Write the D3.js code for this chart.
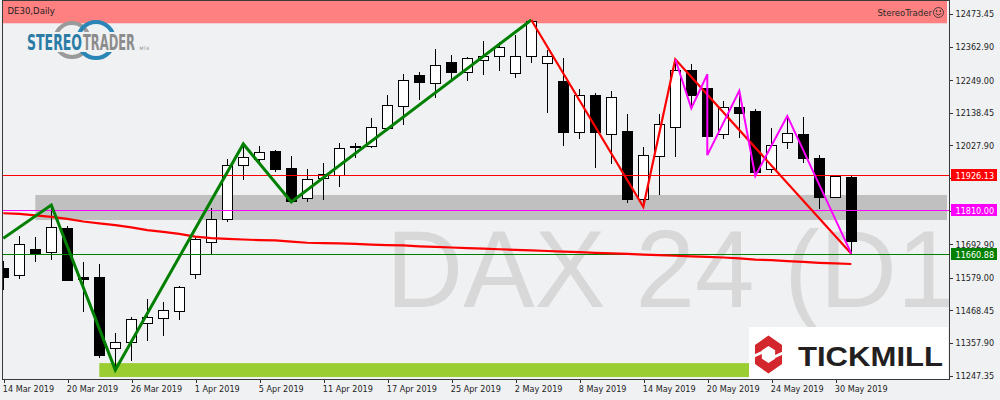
<!DOCTYPE html>
<html><head><meta charset="utf-8">
<script src="https://cdn.jsdelivr.net/npm/d3@7"></script>
<style>
body{margin:0;background:#f0f1f3}
svg{display:block}
.ax text{font-family:"DejaVu Sans Condensed","DejaVu Sans",sans-serif;font-stretch:condensed;font-size:9px;fill:#1e1e1e}
.ax line,.ax path{stroke:#333;shape-rendering:crispEdges}
</style>
</head><body>
<svg id="c" width="1000" height="400"></svg>
<script>
// ---------- DATA ----------
const dates = ["2019-03-14","2019-03-15","2019-03-18","2019-03-19","2019-03-20","2019-03-21","2019-03-22","2019-03-25","2019-03-26","2019-03-27","2019-03-28","2019-03-29","2019-04-01","2019-04-02","2019-04-03","2019-04-04","2019-04-05","2019-04-08","2019-04-09","2019-04-10","2019-04-11","2019-04-12","2019-04-15","2019-04-16","2019-04-17","2019-04-18","2019-04-23","2019-04-24","2019-04-25","2019-04-26","2019-04-29","2019-04-30","2019-05-02","2019-05-03","2019-05-06","2019-05-07","2019-05-08","2019-05-09","2019-05-10","2019-05-13","2019-05-14","2019-05-15","2019-05-16","2019-05-17","2019-05-20","2019-05-21","2019-05-22","2019-05-23","2019-05-24","2019-05-27","2019-05-28","2019-05-29","2019-05-30","2019-05-31"];
const open  = [11611,11590,11676,11666,11747,11581,11581,11342,11361,11427,11442,11468,11593,11700,11780,11961,11981,12009,11951,11849,11916,11928,12021,12025,12086,12163,12266,12239,12310,12276,12317,12330,12272,12330,12309,12246,12075,12199,12066,12077,11845,11993,12091,12284,12222,12066,12158,12145,11947,12038,12067,11984,11852,11920];
const high  = [11636,11721,11717,11826,11755,11633,11625,11391,11445,11507,11497,11551,11721,11815,11981,12033,12026,12012,11992,11948,11968,12035,12037,12121,12199,12270,12277,12354,12335,12327,12382,12380,12402,12453,12351,12325,12219,12207,12212,12135,12023,12135,12320,12304,12269,12180,12213,12151,12087,12128,12123,11995,11924,11924];
const low   = [11538,11574,11634,11640,11569,11464,11308,11267,11297,11365,11382,11436,11575,11657,11769,11911,11972,11939,11836,11837,11844,11888,11984,12018,12077,12097,12182,12190,12247,12247,12268,12281,12257,12308,12137,12026,12050,11950,11965,11833,11820,11860,11990,12154,11995,12051,12054,11924,11935,12017,11967,11812,11851,11661];
const close = [11583,11693,11664,11750,11572,11576,11319,11361,11439,11446,11469,11547,11710,11778,11962,11988,12005,11948,11838,11915,11930,12018,12025,12089,12164,12249,12244,12300,12278,12323,12330,12361,12331,12449,12330,12075,12199,12075,12191,11847,11995,12100,12284,12199,12061,12157,12139,11939,12028,12069,11986,11854,11923,11705];
const maLine = [11798,11796,11791,11786,11779,11770,11764,11758,11750,11741,11735,11728,11719,11714,11711,11709,11707,11706,11702,11698,11697,11696,11694,11692,11690,11689,11686,11684,11682,11680,11678,11676,11674,11672,11670,11668,11666,11664,11662,11660,11658,11656,11654,11652,11650,11648,11645,11641,11639,11636,11633,11630,11628,11626];
const greenZigzag = [["2019-03-14",11713],["2019-03-19",11826],["2019-03-25",11267],["2019-04-04",12033],["2019-04-09",11836],["2019-05-03",12453]];
const redZigzag = [["2019-05-03",12453],["2019-05-14",11820],["2019-05-16",12320],["2019-05-31",11661]];
const magentaZigzag = [["2019-05-16",12320],["2019-05-17",12154],["2019-05-20",12269],["2019-05-20",11995],["2019-05-22",12213],["2019-05-23",11924],["2019-05-27",12128],["2019-05-31",11661]];
const levels = [11926.13, 11810.00, 11660.88];
const levelColors = ["#ff0000","#ff00ff","#008000"];
const pinkZone = [12540, 12442];
const grayZone = [11860, 11775]; const grayStart = "2019-03-18";
const greenZone = [11290, 11243]; const greenStart = "2019-03-22";
const yTicks = [12473.45,12362.90,12249.00,12138.45,12027.90,11917.35,11806.80,11692.90,11579.00,11468.45,11357.90,11247.35];
const xTickDates = ["2019-03-14","2019-03-20","2019-03-26","2019-04-01","2019-04-05","2019-04-11","2019-04-17","2019-04-25","2019-05-02","2019-05-08","2019-05-14","2019-05-20","2019-05-24","2019-05-30"];

// ---------- CHART ----------
const svg = d3.select("#c");
const bg = "#f0f1f3";
svg.append("rect").attr("width",1000).attr("height",400).attr("fill",bg);
const defs = svg.append("defs");
defs.append("clipPath").attr("id","plot").append("rect").attr("x",3).attr("y",1).attr("width",946).attr("height",378);

const x = d3.scalePoint().domain(dates).range([3.3, 851.3]);
const y = d3.scaleLinear().domain([11247.35, 12473.45]).range([375.7, 14]);
const candles = dates.map((d,i)=>({d, o:open[i], h:high[i], l:low[i], c:close[i]}));

const g = svg.append("g").attr("clip-path","url(#plot)");

// zones
g.append("rect").attr("x",3).attr("width",944).attr("y",y(pinkZone[0])).attr("height",y(pinkZone[1])-y(pinkZone[0])).attr("fill","#ff8080");
g.append("rect").attr("x",x(grayStart)).attr("width",947-x(grayStart)).attr("y",y(grayZone[0])).attr("height",y(grayZone[1])-y(grayZone[0])).attr("fill","#c0c0c0");
g.append("rect").attr("x",x(greenStart)).attr("width",947-x(greenStart)).attr("y",y(greenZone[0])).attr("height",y(greenZone[1])-y(greenZone[0])).attr("fill","#9acd32");

// watermark
g.append("text").attr("x",386).attr("y",307).attr("font-family","Liberation Sans, Arial, sans-serif")
 .attr("font-size",110).attr("fill","#d8d8d8").attr("textLength",606).attr("lengthAdjust","spacingAndGlyphs")
 .text("DAX 24 (D1)");

// candles
const cg = g.append("g").attr("shape-rendering","crispEdges");
cg.selectAll("line.w").data(candles).join("line")
  .attr("x1",d=>Math.round(x(d.d))+0.5).attr("x2",d=>Math.round(x(d.d))+0.5)
  .attr("y1",d=>y(d.h)).attr("y2",d=>y(d.l)).attr("stroke","#000");
cg.selectAll("rect.b").data(candles).join("rect")
  .attr("x",d=>Math.round(x(d.d))-5+0.5).attr("width",10)
  .attr("y",d=>Math.round(y(Math.max(d.o,d.c)))+0.5)
  .attr("height",d=>Math.max(0,Math.round(y(Math.min(d.o,d.c)))-Math.round(y(Math.max(d.o,d.c)))))
  .attr("fill",d=>d.c>=d.o?"#fff":"#000").attr("stroke","#000");

// horizontal levels
g.selectAll("line.lv").data(levels).join("line")
  .attr("x1",3).attr("x2",949).attr("y1",d=>Math.round(y(d))+0.5).attr("y2",d=>Math.round(y(d))+0.5)
  .attr("stroke",(d,i)=>levelColors[i]).attr("stroke-width",1).attr("shape-rendering","crispEdges");

// moving average line
const lineMA = d3.line().x((d,i)=>x(dates[i])).y(d=>y(d));
g.append("path").attr("d",lineMA(maLine)).attr("fill","none").attr("stroke","#ff0000").attr("stroke-width",2.2);

// zigzags
const zz = d3.line().x(d=>x(d[0])).y(d=>y(d[1]));
g.append("path").attr("d",zz(greenZigzag)).attr("fill","none").attr("stroke","#008000").attr("stroke-width",3).attr("stroke-linejoin","miter");
g.append("path").attr("d",zz(redZigzag)).attr("fill","none").attr("stroke","#ff0000").attr("stroke-width",2.2);
g.append("path").attr("d",zz(magentaZigzag)).attr("fill","none").attr("stroke","#ff00ff").attr("stroke-width",2);

// frame
svg.append("rect").attr("x",2.5).attr("y",0.5).attr("width",947).attr("height",379)
  .attr("fill","none").attr("stroke","#3a3a3a").attr("shape-rendering","crispEdges");

// axes
const fmt = d3.timeFormat("%-d %b %Y"), parse = d3.timeParse("%Y-%m-%d");
const ya = svg.append("g").attr("class","ax").attr("transform","translate(949.5,0)")
  .call(d3.axisRight(y).tickValues(yTicks).tickFormat(d3.format(".2f")).tickSize(3).tickSizeOuter(0).tickPadding(3));
ya.select(".domain").remove();
const xa = svg.append("g").attr("class","ax").attr("transform","translate(0,379.5)")
  .call(d3.axisBottom(x).tickValues(xTickDates).tickFormat(d=>fmt(parse(d))).tickSize(3).tickSizeOuter(0).tickPadding(3));
xa.select(".domain").remove();
xa.selectAll(".tick line").attr("transform","translate(0.2,0)");
xa.selectAll(".tick text").attr("text-anchor","start").attr("x",-1);

// price level labels
levels.forEach((v,i)=>{
  const yy = Math.round(y(v))+0.5;
  svg.append("rect").attr("x",951).attr("y",yy-6.5).attr("width",46).attr("height",12).attr("fill",levelColors[i]);
  svg.append("text").attr("x",955.5).attr("y",yy+3.3).attr("fill","#fff")
    .attr("font-family","DejaVu Sans Condensed, DejaVu Sans, sans-serif").attr("font-stretch","condensed").attr("font-size",9)
    .text(d3.format(".2f")(v));
});

// header texts
svg.append("text").attr("x",7.5).attr("y",14).attr("font-family","DejaVu Sans Condensed, DejaVu Sans, sans-serif")
  .attr("font-stretch","condensed").attr("font-size",9.5).attr("fill","#1e1e1e").text("DE30,Daily");
svg.append("text").attr("x",932).attr("y",15.5).attr("text-anchor","end").attr("font-family","DejaVu Sans Condensed, DejaVu Sans, sans-serif")
  .attr("font-stretch","condensed").attr("font-size",9.5).attr("fill","#2a2a2a").text("StereoTrader");
const sm = svg.append("g").attr("transform","translate(938.5,12.5)").attr("fill","none").attr("stroke","#333").attr("stroke-width",0.9);
sm.append("circle").attr("r",5);
sm.append("circle").attr("cx",-1.8).attr("cy",-1.5).attr("r",0.5).attr("fill","#333");
sm.append("circle").attr("cx",1.8).attr("cy",-1.5).attr("r",0.5).attr("fill","#333");
sm.append("path").attr("d","M-2.8,1 Q0,4 2.8,1");

// StereoTrader logo
const lg = svg.append("g");
lg.append("circle").attr("cx",72).attr("cy",40).attr("r",17).attr("fill","none").attr("stroke","#9a9a9a").attr("stroke-width",4);
lg.append("circle").attr("cx",96).attr("cy",40).attr("r",18).attr("fill","none").attr("stroke","#2a86b6").attr("stroke-width",4);
lg.append("rect").attr("x",25).attr("y",32).attr("width",124).attr("height",20).attr("fill",bg);
lg.append("text").attr("x",27).attr("y",50).attr("font-family","DejaVu Sans Condensed, DejaVu Sans, sans-serif").attr("font-stretch","condensed")
  .attr("font-weight","bold").attr("font-size",22).attr("fill","#2a7ca6").attr("textLength",55).attr("lengthAdjust","spacingAndGlyphs").text("STEREO");
lg.append("text").attr("x",83).attr("y",50).attr("font-family","DejaVu Sans Condensed, DejaVu Sans, sans-serif").attr("font-stretch","condensed")
  .attr("font-weight","bold").attr("font-size",22).attr("fill","#8c8c8c").attr("textLength",52).attr("lengthAdjust","spacingAndGlyphs").text("TRADER");
lg.append("text").attr("x",139.5).attr("y",49.5).attr("font-family","DejaVu Sans, sans-serif").attr("font-size",4.5).attr("fill","#8c8c8c").text("MT4");

// Tickmill box
const tk = svg.append("g");
tk.append("rect").attr("x",749).attr("y",327).attr("width",199).attr("height",52).attr("fill","#fff");
const hex = (cx,cy,r,sx)=>d3.range(6).map(k=>{const a=Math.PI/180*(60*k-90);return [cx+r*Math.cos(a)*sx, cy+r*Math.sin(a)];});
const hp = p=>"M"+p.map(q=>q.join(",")).join("L")+"Z";
tk.append("path").attr("d",hp(hex(768.5,354.5,19,0.82))+hp(hex(768.5,354.5,8.5,0.9))).attr("fill","#d4262d").attr("fill-rule","evenodd");
tk.append("line").attr("x1",752).attr("y1",357).attr("x2",763).attr("y2",352).attr("stroke","#fff").attr("stroke-width",3);
tk.append("line").attr("x1",774).attr("y1",357).attr("x2",785).attr("y2",352).attr("stroke","#fff").attr("stroke-width",3);
tk.append("text").attr("x",798).attr("y",366).attr("font-family","Liberation Sans, Arial, sans-serif").attr("font-weight","bold")
  .attr("font-size",27.5).attr("fill","#231f20").attr("textLength",145).attr("lengthAdjust","spacingAndGlyphs").text("TICKMILL");
</script>
</body></html>
